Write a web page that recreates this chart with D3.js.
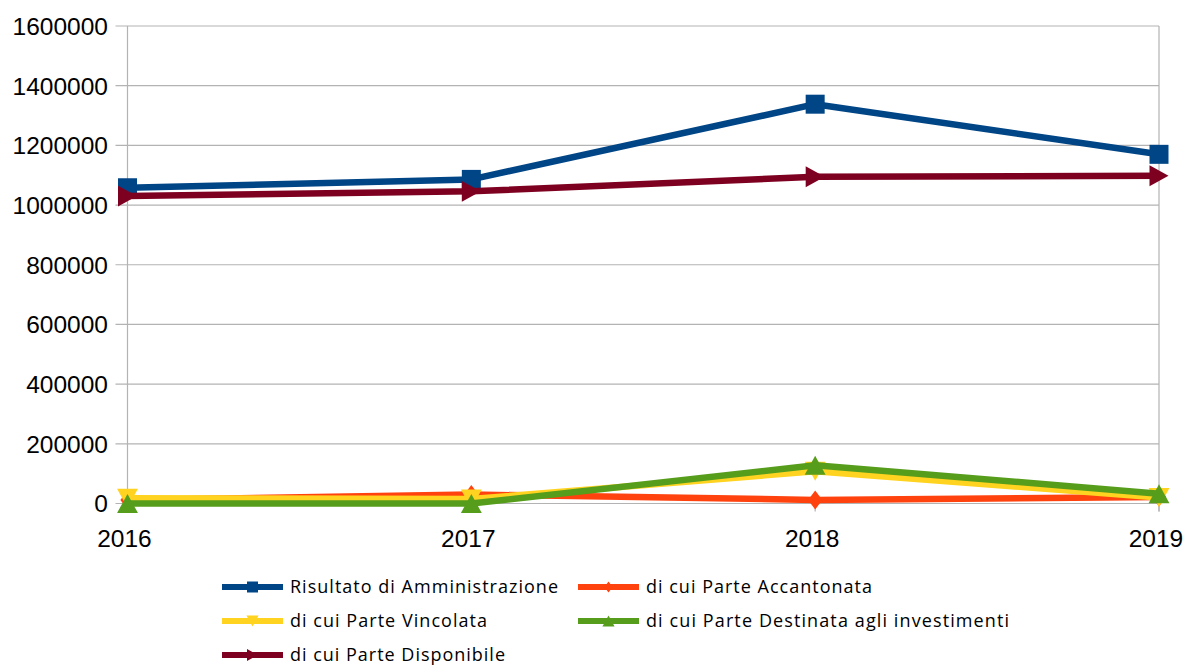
<!DOCTYPE html>
<html>
<head>
<meta charset="utf-8">
<script src="https://cdn.jsdelivr.net/npm/d3@7"></script>
<style>
  body { margin: 0; background: #fff; }
  svg { display: block; }
</style>
</head>
<body>
<div id="chart"></div>
<script>
const years = ["2016", "2017", "2018", "2019"];
const yTicks = [0, 200000, 400000, 600000, 800000, 1000000, 1200000, 1400000, 1600000];

const risultato = [1058000, 1086000, 1338000, 1170000];
const accantonata = [12000, 30000, 12000, 22000];
const vincolata = [18000, 15000, 108000, 20000];
const destinata = [0, 0, 128000, 33000];
const disponibile = [1030000, 1046000, 1095000, 1098000];

const series = [
  { name: "Risultato di Amministrazione", values: risultato, color: "#004586", marker: "square" },
  { name: "di cui Parte Accantonata", values: accantonata, color: "#ff420e", marker: "diamond" },
  { name: "di cui Parte Vincolata", values: vincolata, color: "#ffd320", marker: "down" },
  { name: "di cui Parte Destinata agli investimenti", values: destinata, color: "#579d1c", marker: "up" },
  { name: "di cui Parte Disponibile", values: disponibile, color: "#7e0021", marker: "right" }
];

const w = 1186, h = 666;
const margin = { left: 127.5, right: 27, top: 26, bottom: 162.5 };

const svg = d3.select("#chart").append("svg")
  .attr("width", w).attr("height", h);

const x = d3.scalePoint().domain(years).range([margin.left, w - margin.right]);
const y = d3.scaleLinear().domain([0, 1600000]).range([h - margin.bottom, margin.top]);

// grid
svg.append("g").selectAll("line")
  .data(yTicks).enter().append("line")
  .attr("x1", margin.left - 12).attr("x2", w - margin.right)
  .attr("y1", d => y(d)).attr("y2", d => y(d))
  .attr("stroke", "#b3b3b3").attr("stroke-width", 1.2);

// vertical axis lines
svg.append("line")
  .attr("x1", margin.left).attr("x2", margin.left)
  .attr("y1", margin.top).attr("y2", h - margin.bottom + 8)
  .attr("stroke", "#b3b3b3").attr("stroke-width", 1.2);
svg.append("line")
  .attr("x1", w - margin.right).attr("x2", w - margin.right)
  .attr("y1", margin.top).attr("y2", h - margin.bottom + 8)
  .attr("stroke", "#b3b3b3").attr("stroke-width", 1.2);
svg.append("g").selectAll("line")
  .data(years).enter().append("line")
  .attr("x1", d => x(d)).attr("x2", d => x(d))
  .attr("y1", h - margin.bottom).attr("y2", h - margin.bottom + 8)
  .attr("stroke", "#b3b3b3").attr("stroke-width", 1.2);

// y labels
svg.append("g").selectAll("text")
  .data(yTicks).enter().append("text")
  .attr("x", 108).attr("y", d => y(d))
  .attr("dy", "0.36em")
  .attr("text-anchor", "end")
  .attr("font-family", "Liberation Sans, Arial, sans-serif")
  .attr("font-size", 24.5)
  .attr("fill", "#000")
  .text(d => d);

// x labels
svg.append("g").selectAll("text")
  .data(years).enter().append("text")
  .attr("x", d => x(d) - 3).attr("y", 547)
  .attr("text-anchor", "middle")
  .attr("font-family", "Liberation Sans, Arial, sans-serif")
  .attr("font-size", 24.5)
  .attr("fill", "#000")
  .text(d => d);

function markerPath(type, s) {
  const r = s / 2;
  switch (type) {
    case "square": return `M${-r},${-r}H${r}V${r}H${-r}Z`;
    case "diamond": return `M0,${-r}L${r * 0.75},0L0,${r}L${-r * 0.75},0Z`;
    case "down": return `M${-r * 1.1},${-r}L${r * 1.1},${-r}L0,${r}Z`;
    case "up": return `M${-r * 1.1},${r}L${r * 1.1},${r}L0,${-r}Z`;
    case "right": return `M${-r},${-r * 1.1}L${r},0L${-r},${r * 1.1}Z`;
  }
}

const line = d3.line().x((d, i) => x(years[i])).y(d => y(d));

series.forEach(s => {
  const g = svg.append("g");
  g.append("path")
    .attr("d", line(s.values))
    .attr("fill", "none")
    .attr("stroke", s.color)
    .attr("stroke-width", 6.5)
    .attr("stroke-linejoin", "round");
  g.selectAll("path.m")
    .data(s.values).enter().append("path")
    .attr("class", "m")
    .attr("transform", (d, i) => `translate(${x(years[i])},${y(d)})`)
    .attr("d", markerPath(s.marker, 19))
    .attr("fill", s.color);
});

// legend
const legendPos = [
  { lx: 222, ty: 587, tl: 268 },
  { lx: 578, ty: 587, tl: 226 },
  { lx: 222, ty: 621, tl: 197 },
  { lx: 578, ty: 621, tl: 363 },
  { lx: 222, ty: 655, tl: 215 }
];

const legend = svg.append("g").selectAll("g")
  .data(series).enter().append("g")
  .attr("transform", (d, i) => `translate(${legendPos[i].lx},${legendPos[i].ty})`);

legend.append("line")
  .attr("x1", 0).attr("x2", 61)
  .attr("y1", 0).attr("y2", 0)
  .attr("stroke", d => d.color)
  .attr("stroke-width", 6);

legend.append("path")
  .attr("transform", "translate(30.5,0)")
  .attr("d", d => markerPath(d.marker, 11))
  .attr("fill", d => d.color);

legend.append("text")
  .attr("x", 68).attr("y", 0)
  .attr("dy", "0.36em")
  .attr("font-family", "Open Sans, sans-serif")
  .attr("font-size", 18)
  .attr("fill", "#000")
  .attr("textLength", (d, i) => legendPos[i].tl)
  .attr("lengthAdjust", "spacing")
  .text(d => d.name);
</script>
</body>
</html>
